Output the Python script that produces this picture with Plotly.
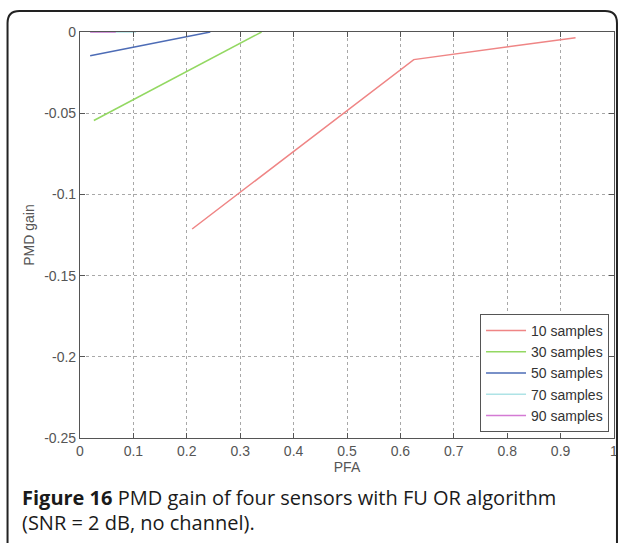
import plotly.graph_objects as go

# ---- data ----
series_names = ["10 samples", "30 samples", "50 samples", "70 samples", "90 samples"]
pfa_10 = [0.21, 0.625, 0.928]
gain_10 = [-0.1213, -0.0170, -0.0035]
pfa_30 = [0.026, 0.34]
gain_30 = [-0.0545, 0.0]
pfa_50 = [0.019, 0.10, 0.20, 0.244]
gain_50 = [-0.0146, -0.0094, -0.0030, 0.0]
pfa_70 = [0.019, 0.105]
gain_70 = [0.0, 0.0]
pfa_90 = [0.019, 0.067]
gain_90 = [0.0, 0.0]
colors = ["#ef8585", "#93d862", "#4d6cb6", "#aee3e6", "#d47ad4"]

x_ticks = [0, 0.1, 0.2, 0.3, 0.4, 0.5, 0.6, 0.7, 0.8, 0.9, 1]
x_ticktext = ["0", "0.1", "0.2", "0.3", "0.4", "0.5", "0.6", "0.7", "0.8", "0.9", "1"]
y_ticks = [0, -0.05, -0.1, -0.15, -0.2, -0.25]
y_ticktext = ["0", "-0.05", "-0.1", "-0.15", "-0.2", "-0.25"]

xs = [pfa_10, pfa_30, pfa_50, pfa_70, pfa_90]
ys = [gain_10, gain_30, gain_50, gain_70, gain_90]

W, H = 624, 543
L, R, T, B = 80, 6, 32, 105
pw, ph = W - L - R, H - T - B


def px(x):
    return (x - L) / pw


def py(y):
    return (H - B - y) / ph


fig = go.Figure()
for name, x, y, c in zip(series_names, xs, ys, colors):
    fig.add_trace(go.Scatter(x=x, y=y, mode="lines", name=name,
                             line=dict(color=c, width=1.5)))

tickfont = dict(family="Liberation Sans, Arial, sans-serif", size=14, color="#555555")
axis_common = dict(
    showline=True, linecolor="#555555", linewidth=1.2, mirror="allticks",
    ticks="inside", ticklen=5, tickcolor="#555555",
    showgrid=True, gridcolor="#a8a8a8", griddash="dot", gridwidth=1,
    zeroline=False, tickfont=tickfont,
)
fig.update_xaxes(range=[0, 1], tickvals=x_ticks, ticktext=x_ticktext,
                 title=dict(text="PFA", font=tickfont, standoff=4), **axis_common)
fig.update_yaxes(range=[-0.25, 0], tickvals=y_ticks, ticktext=y_ticktext,
                 title=dict(text="PMD gain", font=tickfont, standoff=6), **axis_common)

# outer rounded frame
x0, x1, y0, y1, r = 7, 621, 11, 570, 12
path = (f"M {px(x0)},{py(y0 + r)} Q {px(x0)},{py(y0)} {px(x0 + r)},{py(y0)} "
        f"L {px(x1 - r)},{py(y0)} Q {px(x1)},{py(y0)} {px(x1)},{py(y0 + r)} "
        f"L {px(x1)},{py(y1)} M {px(x0)},{py(y0 + r)} L {px(x0)},{py(y1)}")
fig.add_shape(type="path", path=path, xref="paper", yref="paper",
              line=dict(color="#222222", width=2))

capfont = dict(family="Open Sans, sans-serif", size=20, color="#1a1a1a")
fig.add_annotation(x=px(20), y=py(497), xref="paper", yref="paper", xanchor="left",
                   yanchor="middle", showarrow=False, font=capfont,
                   text="<b>Figure 16</b> PMD gain of four sensors with FU OR algorithm")
fig.add_annotation(x=px(20), y=py(522), xref="paper", yref="paper", xanchor="left",
                   yanchor="middle", showarrow=False, font=capfont,
                   text="(SNR = 2 dB, no channel).")

fig.update_layout(
    width=W, height=H, margin=dict(l=L, r=R, t=T, b=B),
    paper_bgcolor="white", plot_bgcolor="white",
    showlegend=True,
    legend=dict(x=px(613), y=py(432), xanchor="right", yanchor="bottom",
                bgcolor="white", bordercolor="#555555", borderwidth=1,
                font=dict(family="Liberation Sans, Arial, sans-serif", size=14, color="#333333"),
                tracegroupgap=0, itemwidth=40),
)

fig.write_html("out.html")
